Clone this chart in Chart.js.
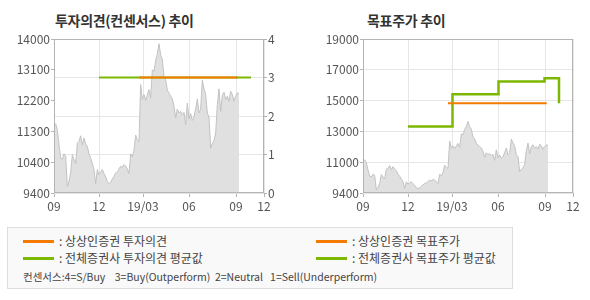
<!DOCTYPE html>
<html>
<head>
<meta charset="utf-8">
<script src="https://cdn.jsdelivr.net/npm/chart.js@4.4.1/dist/chart.umd.min.js"></script>
<style>
  body{margin:0;width:590px;height:300px;background:#fff;position:relative;overflow:hidden;
    font-family:'Noto Sans CJK KR','Noto Sans',sans-serif;}
  .box{position:absolute;top:0;width:295px;height:215px;}
  .ttl{position:absolute;top:10px;font-size:14px;font-weight:bold;color:#333;letter-spacing:-0.3px;}
  .legend{position:absolute;left:7px;top:227px;width:504px;height:60px;border:1px solid #ddd;background:#f9f9f9;font-size:12px;color:#444;}
  .item{position:absolute;white-space:pre;line-height:14px;}
  .item i{display:inline-block;width:31px;height:3px;vertical-align:middle;margin-right:5px;margin-top:-2px;}
  .note{font-size:10.5px;}
</style>
</head>
<body>
<div class="ttl" style="left:55px">투자의견(컨센서스) 추이</div>
<div class="ttl" style="left:367px">목표주가 추이</div>
<div class="box" style="left:0"><canvas id="opinion" width="295" height="215"></canvas></div>
<div class="box" style="left:295px"><canvas id="target" width="295" height="215"></canvas></div>

<div class="legend">
  <div class="item" style="left:15px;top:6px"><i style="background:#f57a00"></i>: 상상인증권 투자의견</div>
  <div class="item" style="left:15px;top:23px"><i style="background:#7cb800"></i>: 전체증권사 투자의견 평균값</div>
  <div class="item" style="left:308px;top:6px"><i style="background:#f57a00"></i>: 상상인증권 목표주가</div>
  <div class="item" style="left:308px;top:23px"><i style="background:#7cb800"></i>: 전체증권사 목표주가 평균값</div>
  <div class="item note" style="left:15px;top:42px">컨센서스:4=S/Buy    3=Buy(Outperform)  2=Neutral   1=Sell(Underperform)</div>
</div>

<script>
// x axis: months, positions in data index units
var xTickPos = [0, 27, 53.4, 81, 109.2, 126];
var xTickLabels = ['09', '12', '19/03', '06', '09', '12'];

// daily-ish close price
var price = [
  11390, 11470, 11290, 10840, 10450, 10400, 10570, 10500, 9600, 9750,
  10000, 10550, 10400, 10280, 10890, 10940, 11110, 10840, 11040, 10870,
  10790, 10570, 10450, 10280, 10100, 9680, 10100, 9950, 10020, 10100,
  9980, 9880, 9740, 9680, 9720, 9820, 9900, 10000, 10020, 10120,
  10200, 10160, 10250, 10200, 10120, 9980, 10570, 10480, 10670, 11130,
  10990, 10940, 12640, 12190, 12340, 12170, 12330, 12490, 12240, 13080,
  13030, 13360, 13560, 13860, 13530, 13380, 12890, 12790, 12470, 12390,
  12290, 12210, 11990, 11640, 11910, 11790, 11840, 11740, 11810, 11440,
  12090, 11610, 11770, 11570, 11670, 11910, 12210, 11790, 11910, 12770,
  12510, 12340, 11790, 11670, 10740, 10870, 10970, 11190, 12040, 12510,
  11840, 12310, 12410, 12190, 12290, 12140, 12440, 12340, 12140, 12290,
  12390, 12370
];

// left chart axes
var priceLabelsL = ['9400', '10400', '11300', '12200', '13100', '14000'];
var opinionTicks = [0, 1, 2, 3, 4];
// consensus lines (value 3 = Buy)
var firmOpinionX = [51, 110.4];
var firmOpinion = [3, 3];
var allOpinionX = [27, 118.2];
var allOpinion = [3, 3];

// right chart axes
var priceLabelsR = ['9400', '11000', '13000', '15000', '17000', '19000'];
var firmTargetX = [51, 110.2];
var firmTarget = [15000, 15000];
var allTargetX = [27, 53.7, 81.3, 108.9, 117.6];
var allTarget = [13550, 15550, 16350, 16550, 15000];

var ORANGE = '#f57a00', GREEN = '#7cb800';
var GRID = '#e6e6e6', EDGE = '#b4b4b4', TXT = '#555';

Chart.defaults.font.family = "'Noto Sans CJK KR', 'Liberation Sans', sans-serif";
Chart.defaults.font.size = 11;
Chart.defaults.color = TXT;

function pts(xs, ys) {
  return xs.map(function(x, i){ return {x: x, y: ys[i]}; });
}

var pricePts = price.map(function(v, i){ return {x: i, y: v}; });

// draws the grey frame around the plot area
var frame = {
  id: 'frame',
  afterDraw: function(chart){
    var a = chart.chartArea, c = chart.ctx;
    c.save();
    c.strokeStyle = EDGE;
    c.lineWidth = 1;
    c.strokeRect(Math.round(a.left) + 0.5, Math.round(a.top) + 0.5,
      Math.round(a.right - a.left) - 1, Math.round(a.bottom - a.top) - 1);
    c.restore();
  }
};

function xAxis() {
  return {
    type: 'linear', min: 0, max: 126,
    afterBuildTicks: function(s){ s.ticks = xTickPos.map(function(v){ return {value: v}; }); },
    afterFit: function(s){ s.height = 22; },
    ticks: { autoSkip: false, maxRotation: 0, padding: 2, font: {size: 12},
      callback: function(v, i){ return xTickLabels[i]; } },
    grid: { color: GRID, tickColor: EDGE, tickLength: 4 },
    border: { display: false }
  };
}

function evenTicks(min, max, labels) {
  var step = (max - min) / (labels.length - 1);
  return {
    afterBuildTicks: function(s){
      s.ticks = labels.map(function(l, i){ return {value: min + step * i}; });
    },
    callback: function(v, i){ return labels[i]; }
  };
}

var priceArea = {
  type: 'line', data: pricePts, yAxisID: 'y',
  borderColor: '#c2c2c2', borderWidth: 1, backgroundColor: '#e0e0e0',
  fill: 'start', pointRadius: 0, tension: 0, order: 3
};

// ---- left chart: investment opinion ----
var ltk = evenTicks(9400, 14000, priceLabelsL);
new Chart(document.getElementById('opinion'), {
  type: 'line',
  data: {
    datasets: [
      priceArea,
      { data: pts(allOpinionX, allOpinion), yAxisID: 'y1', borderColor: GREEN, borderWidth: 2,
        pointRadius: 0, fill: false, order: 2 },
      { data: pts(firmOpinionX, firmOpinion), yAxisID: 'y1', borderColor: ORANGE, borderWidth: 2,
        pointRadius: 0, fill: false, order: 1 }
    ]
  },
  options: {
    responsive: false, animation: false,
    layout: { padding: { top: 39, left: 0, right: 0, bottom: 0 } },
    plugins: { legend: { display: false }, tooltip: { enabled: false } },
    scales: {
      x: xAxis(),
      y: {
        position: 'left', min: 9400, max: 14000,
        afterBuildTicks: ltk.afterBuildTicks,
        afterFit: function(s){ s.width = 54; },
        ticks: { callback: ltk.callback, padding: 1, font: {size: 12} },
        grid: { drawOnChartArea: false, tickColor: EDGE, tickLength: 3 },
        border: { display: false }
      },
      y1: {
        position: 'right', min: 0, max: 4,
        afterBuildTicks: function(s){ s.ticks = opinionTicks.map(function(v){ return {value: v}; }); },
        afterFit: function(s){ s.width = 31; },
        ticks: { padding: 1, font: {size: 12} },
        grid: { color: GRID, tickColor: EDGE, tickLength: 3 },
        border: { display: false }
      }
    }
  },
  plugins: [frame]
});

// ---- right chart: target price ----
var rtk = evenTicks(9400, 19000, priceLabelsR);
new Chart(document.getElementById('target'), {
  type: 'line',
  data: {
    datasets: [
      Object.assign({}, priceArea),
      { data: pts(allTargetX, allTarget), borderColor: GREEN, borderWidth: 2.5,
        stepped: 'before', pointRadius: 0, fill: false, order: 2 },
      { data: pts(firmTargetX, firmTarget), borderColor: ORANGE, borderWidth: 2,
        pointRadius: 0, fill: false, order: 1 }
    ]
  },
  options: {
    responsive: false, animation: false,
    layout: { padding: { top: 39, left: 0, right: 17, bottom: 0 } },
    plugins: { legend: { display: false }, tooltip: { enabled: false } },
    scales: {
      x: xAxis(),
      y: {
        position: 'left', min: 9400, max: 19000,
        afterBuildTicks: rtk.afterBuildTicks,
        afterFit: function(s){ s.width = 68; },
        ticks: { callback: rtk.callback, padding: 1, font: {size: 12} },
        grid: { color: GRID, tickColor: EDGE, tickLength: 3 },
        border: { display: false }
      }
    }
  },
  plugins: [frame]
});
</script>
</body>
</html>
